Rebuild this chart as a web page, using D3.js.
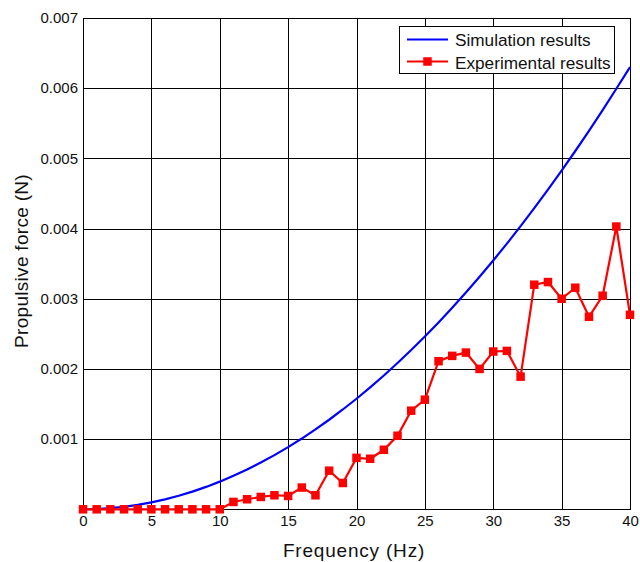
<!DOCTYPE html>
<html>
<head>
<meta charset="utf-8">
<script src="https://cdn.jsdelivr.net/npm/d3@7"></script>
<style>
  html, body { margin: 0; padding: 0; background: #fff; }
  svg { display: block; }
  text { font-family: "Liberation Sans", Arial, sans-serif; fill: #111; }
</style>
</head>
<body>
<script>
// Frequency samples (Hz)
const frequency = d3.range(0, 41);

// Simulated propulsive force (N)
const simulation = [
  0, 0.000004, 0.000016, 0.000035, 0.000063, 0.000098, 0.000142, 0.000193,
  0.000252, 0.000319, 0.000394, 0.000477, 0.000567, 0.000666, 0.000772,
  0.000886, 0.001008, 0.001138, 0.001276, 0.001422, 0.001575, 0.001737,
  0.001906, 0.002084, 0.002269, 0.002462, 0.002663, 0.002872, 0.003089,
  0.003313, 0.003546, 0.003786, 0.004034, 0.004290, 0.004554, 0.004826,
  0.005105, 0.005393, 0.005688, 0.005992, 0.006300
];

// Measured propulsive force (N)
const experimental = [
  0, 0, 0, 0, 0, 0, 0, 0, 0, 0, 0,
  0.000105, 0.000143, 0.000176, 0.000200, 0.000190, 0.000310, 0.000200,
  0.000550, 0.000375, 0.000733, 0.000720, 0.000848, 0.001048, 0.001405,
  0.001562, 0.002110, 0.002186, 0.002233, 0.002000, 0.002248, 0.002257,
  0.001890, 0.003200, 0.003238, 0.003000, 0.003157, 0.002743, 0.003043,
  0.004029, 0.002771
];

const xTicks = [0, 5, 10, 15, 20, 25, 30, 35, 40];
const yTicks = [0.001, 0.002, 0.003, 0.004, 0.005, 0.006, 0.007];
const seriesNames = ["Simulation results", "Experimental results"];

const W = 640, H = 562;
const margin = { left: 83, right: 10, top: 18, bottom: 52.7 };

const svg = d3.select("body").append("svg").attr("width", W).attr("height", H);

const x = d3.scaleLinear().domain([0, 40]).range([margin.left, W - margin.right]);
const y = d3.scaleLinear().domain([0, 0.007]).range([H - margin.bottom, margin.top]);

const pw = x(40) - x(0), ph = y(0) - y(0.007);

// Grid lines
const grid = svg.append("g");
grid.selectAll(".gx").data(xTicks.slice(1, -1)).join("line")
  .attr("x1", d => Math.round(x(d)) + 0.5).attr("x2", d => Math.round(x(d)) + 0.5)
  .attr("y1", y(0.007)).attr("y2", y(0))
  .attr("stroke", "#000").attr("stroke-width", 1);
grid.selectAll(".gy").data(yTicks.slice(0, -1)).join("line")
  .attr("x1", x(0)).attr("x2", x(40))
  .attr("y1", d => Math.round(y(d)) + 0.5).attr("y2", d => Math.round(y(d)) + 0.5)
  .attr("stroke", "#000").attr("stroke-width", 1);

// Plot frame
svg.append("rect")
  .attr("x", Math.round(x(0)) + 0.5).attr("y", Math.round(y(0.007)) + 0.5)
  .attr("width", Math.round(pw)).attr("height", Math.round(ph))
  .attr("fill", "none").attr("stroke", "#000").attr("stroke-width", 1);

// Axes (labels only; the frame and grid draw the lines)
const xAxis = d3.axisBottom(x).tickValues(xTicks).tickSize(0).tickPadding(6);
svg.append("g").attr("transform", `translate(0,${y(0)})`).call(xAxis)
  .call(g => g.select(".domain").remove())
  .selectAll("text").attr("font-size", 15).attr("font-family", "Liberation Sans, Arial, sans-serif").attr("fill", "#111");

const yAxis = d3.axisLeft(y).tickValues(yTicks).tickSize(0).tickPadding(5).tickFormat(d3.format(".3f"));
svg.append("g").attr("transform", `translate(${x(0)},0)`).call(yAxis)
  .call(g => g.select(".domain").remove())
  .selectAll("text").attr("font-size", 15).attr("font-family", "Liberation Sans, Arial, sans-serif").attr("fill", "#111");

// Axis titles
svg.append("text").attr("x", 354).attr("y", 557).attr("text-anchor", "middle")
  .attr("font-size", 19).attr("letter-spacing", 0.8).text("Frequency (Hz)");
svg.append("text").attr("transform", "translate(28,261) rotate(-90)").attr("text-anchor", "middle")
  .attr("font-size", 19).attr("letter-spacing", 0.3).text("Propulsive force (N)");

// Simulation curve
const line = d3.line().x((d, i) => x(frequency[i])).y(d => y(d));
svg.append("path").datum(simulation)
  .attr("d", line).attr("fill", "none").attr("stroke", "#0000ff").attr("stroke-width", 2.2);

// Experimental series
svg.append("path").datum(experimental)
  .attr("d", line).attr("fill", "none").attr("stroke", "#ff0000").attr("stroke-width", 2.2);
const ms = 8.5;
svg.selectAll(".mk").data(experimental).join("rect")
  .attr("x", (d, i) => x(frequency[i]) - ms / 2)
  .attr("y", d => y(d) - ms / 2)
  .attr("width", ms).attr("height", ms).attr("fill", "#ff0000");

// Legend
const lg = svg.append("g");
lg.append("rect").attr("x", 399.5).attr("y", 26.5).attr("width", 215).attr("height", 47)
  .attr("fill", "#fff").attr("stroke", "#000").attr("stroke-width", 1);
lg.append("line").attr("x1", 407).attr("x2", 448).attr("y1", 39.5).attr("y2", 39.5)
  .attr("stroke", "#0000ff").attr("stroke-width", 2.2);
lg.append("line").attr("x1", 407).attr("x2", 448).attr("y1", 61.5).attr("y2", 61.5)
  .attr("stroke", "#ff0000").attr("stroke-width", 2.2);
lg.append("rect").attr("x", 427.5 - ms / 2).attr("y", 61.5 - ms / 2).attr("width", ms).attr("height", ms)
  .attr("fill", "#ff0000");
lg.selectAll(".lt").data(seriesNames).join("text")
  .attr("x", 455).attr("y", (d, i) => 45.5 + i * 23)
  .attr("font-size", 17.2).text(d => d);
</script>
</body>
</html>
